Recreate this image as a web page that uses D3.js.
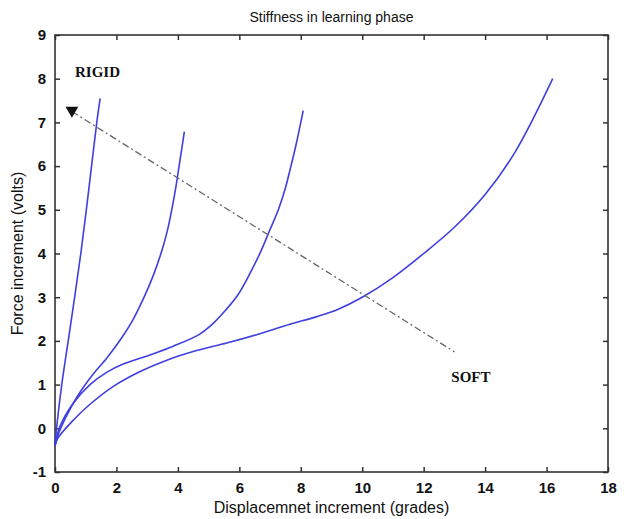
<!DOCTYPE html>
<html>
<head>
<meta charset="utf-8">
<script src="https://cdn.jsdelivr.net/npm/d3@7"></script>
<style>
  html, body { margin: 0; padding: 0; background: #fff; }
  svg { display: block; }
  .tick-label { font-family: "Liberation Sans", Arial, sans-serif; font-weight: bold; font-size: 15px; fill: #111; }
  .title, .axis-title { font-family: "Liberation Sans", Arial, sans-serif; fill: #111; }
  .tag { font-family: "Liberation Serif", "DejaVu Serif", serif; font-weight: bold; font-size: 15px; fill: #111; }
</style>
</head>
<body>
<script>
// Force/displacement curves recorded during the learning phase,
// from the most rigid sample to the softest one.
const rigidCurve = [
  [0, -0.4], [0.05, 0], [0.22, 1], [0.43, 2], [0.64, 3], [0.84, 4],
  [1.02, 5], [1.19, 6], [1.36, 7], [1.47, 7.55]
];
const stiffCurve = [
  [0, -0.4], [0.1, -0.15], [0.35, 0.25], [0.7, 0.7], [1.2, 1.2],
  [1.7, 1.62], [2.15, 2.05], [2.55, 2.5], [2.9, 3], [3.2, 3.5],
  [3.45, 4], [3.65, 4.5], [3.8, 5], [3.93, 5.5], [4.04, 6], [4.21, 6.79]
];
const mediumCurve = [
  [0, -0.4], [0.16, 0.04], [0.6, 0.58], [1.14, 1.0], [1.68, 1.28],
  [2.22, 1.47], [3.09, 1.68], [3.85, 1.88], [4.7, 2.15], [5.15, 2.4],
  [5.55, 2.7], [5.95, 3.05], [6.35, 3.55], [6.7, 4.05], [7.0, 4.55],
  [7.27, 5], [7.5, 5.5], [7.68, 6], [7.85, 6.5], [8.0, 7], [8.08, 7.27]
];
const softCurve = [
  [0, -0.4], [0.1, -0.22], [0.6, 0.19], [1.14, 0.55], [1.9, 0.96],
  [2.77, 1.3], [3.64, 1.56], [4.61, 1.78], [5.59, 1.95], [6.56, 2.14],
  [7.65, 2.38], [8.5, 2.55], [9.2, 2.72], [10, 3.0], [11, 3.45],
  [12, 4.0], [13, 4.6], [14, 5.35], [15, 6.35], [16.2, 8.0]
];
const curves = [rigidCurve, stiffCurve, mediumCurve, softCurve];

// Rigid-to-soft trend arrow
const trendLine = [[0.55, 7.25], [13.0, 1.75]];
const rigidLabel = { text: "RIGID", x: 0.65, y: 8.05 };
const softLabel = { text: "SOFT", x: 12.9, y: 1.05 };

const xTicks = [0, 2, 4, 6, 8, 10, 12, 14, 16, 18];
const yTicks = [-1, 0, 1, 2, 3, 4, 5, 6, 7, 8, 9];

const titleText = "Stiffness in learning phase";
const xTitle = "Displacemnet increment (grades)";
const yTitle = "Force increment (volts)";

const W = 624, H = 519;
const m = { left: 55, right: 16, top: 35, bottom: 47 };

const svg = d3.select("body").append("svg").attr("width", W).attr("height", H);

const x = d3.scaleLinear().domain([0, 18]).range([m.left, W - m.right]);
const y = d3.scaleLinear().domain([-1, 9]).range([H - m.bottom, m.top]);

const tickLen = 5;
const frameColor = "#333";
const fmt = d => String(d);

// Axes with inward ticks on all four sides
const gx = svg.append("g").attr("transform", `translate(0,${y(-1)})`)
  .call(d3.axisBottom(x).tickValues(xTicks).tickSize(-tickLen).tickPadding(10).tickFormat(fmt));
const gxTop = svg.append("g").attr("transform", `translate(0,${y(9)})`)
  .call(d3.axisTop(x).tickValues(xTicks).tickSize(-tickLen).tickFormat(""));
const gy = svg.append("g").attr("transform", `translate(${x(0)},0)`)
  .call(d3.axisLeft(y).tickValues(yTicks).tickSize(-tickLen).tickPadding(9).tickFormat(fmt));
const gyRight = svg.append("g").attr("transform", `translate(${x(18)},0)`)
  .call(d3.axisRight(y).tickValues(yTicks).tickSize(-tickLen).tickFormat(""));

[gx, gxTop, gy, gyRight].forEach(g => {
  g.select(".domain").remove();
  g.selectAll(".tick line").attr("stroke", frameColor).attr("stroke-width", 1.5);
  g.selectAll(".tick text").attr("class", "tick-label").attr("font-size", null).attr("font-family", null);
});

// Frame
svg.append("rect")
  .attr("x", x(0)).attr("y", y(9))
  .attr("width", x(18) - x(0)).attr("height", y(-1) - y(9))
  .attr("fill", "none").attr("stroke", frameColor).attr("stroke-width", 1.6);

// Curves
const line = d3.line().x(d => x(d[0])).y(d => y(d[1])).curve(d3.curveCatmullRom.alpha(0.5));
svg.append("g").selectAll("path").data(curves).join("path")
  .attr("d", line)
  .attr("fill", "none")
  .attr("stroke", "#3f3fe0")
  .attr("stroke-width", 1.6);

// Trend line (dash-dot) with triangle marker
svg.append("path")
  .attr("d", d3.line().x(d => x(d[0])).y(d => y(d[1]))(trendLine))
  .attr("fill", "none")
  .attr("stroke", "#666")
  .attr("stroke-width", 1.3)
  .attr("stroke-dasharray", "7,3,2,3");

svg.append("path")
  .attr("d", d3.symbol().type(d3.symbolTriangle).size(70)())
  .attr("transform", `translate(${x(trendLine[0][0])},${y(trendLine[0][1]) - 1}) rotate(180)`)
  .attr("fill", "#111");

// Labels
svg.append("text").attr("class", "tag")
  .attr("x", x(rigidLabel.x)).attr("y", y(rigidLabel.y))
  .text(rigidLabel.text);
svg.append("text").attr("class", "tag")
  .attr("x", x(softLabel.x)).attr("y", y(softLabel.y))
  .text(softLabel.text);

// Titles
svg.append("text").attr("class", "title")
  .attr("x", (x(0) + x(18)) / 2).attr("y", 22)
  .attr("text-anchor", "middle").attr("font-size", 14)
  .text(titleText);
svg.append("text").attr("class", "axis-title")
  .attr("x", (x(0) + x(18)) / 2).attr("y", 513)
  .attr("text-anchor", "middle").attr("font-size", 16)
  .text(xTitle);
svg.append("text").attr("class", "axis-title")
  .attr("transform", `translate(23,${(y(-1) + y(9)) / 2}) rotate(-90)`)
  .attr("text-anchor", "middle").attr("font-size", 16)
  .text(yTitle);
</script>
</body>
</html>
